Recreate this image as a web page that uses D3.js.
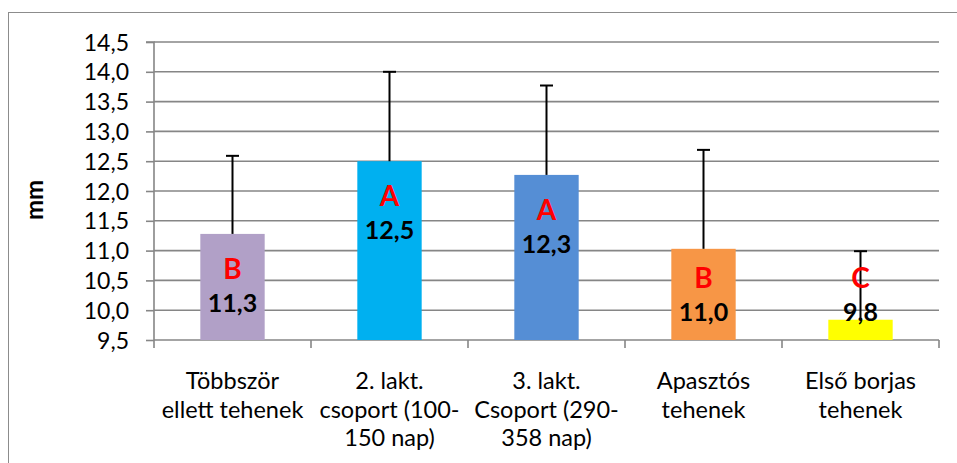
<!DOCTYPE html>
<html><head><meta charset="utf-8">
<script src="https://cdn.jsdelivr.net/npm/d3@7"></script>
<style>body{margin:0;background:#fff}svg{display:block}</style>
</head><body>
<svg id="c" width="957" height="463"></svg>
<script>
const categories = [["Többször","ellett tehenek"],["2. lakt.","csoport (100-","150 nap)"],["3. lakt.","Csoport (290-","358 nap)"],["Apasztós","tehenek"],["Első borjas","tehenek"]];
const values = [11.28, 12.5, 12.27, 11.03, 9.84];
const valueLabels = ["11,3","12,5","12,3","11,0","9,8"];
const errorTops = [12.59, 14.0, 13.77, 12.69, 10.99];
const letters = ["B","A","A","B","C"];
const colors = ["#B1A0C7","#00B0F0","#558ED5","#F79646","#FFFF00"];
const yTicks = [9.5,10,10.5,11,11.5,12,12.5,13,13.5,14,14.5];

const svg = d3.select("#c");
const font = "Lato, 'Open Sans', sans-serif";
const L=154, R=939, T=42, B=340;
svg.append("rect").attr("x",8.5).attr("y",12.5).attr("width",1000).attr("height",1000)
  .attr("fill","none").attr("stroke","#8c8c8c").attr("stroke-width",1);

const x = d3.scaleBand().domain(d3.range(categories.length)).range([L,R]).paddingInner(0.59).paddingOuter(0.295);
const xc = d3.scaleBand().domain(d3.range(categories.length)).range([L,R]);
const y = d3.scaleLinear().domain([9.5,14.5]).range([B,T]);

// gridlines
svg.append("g").selectAll("line").data(yTicks.slice(1)).join("line")
  .attr("x1",L).attr("x2",R).attr("y1",d=>y(d)).attr("y2",d=>y(d))
  .attr("stroke","#868686").attr("stroke-width",1.6);

// y axis
const ya = svg.append("g").attr("transform",`translate(${L},0)`)
  .call(d3.axisLeft(y).tickValues(yTicks).tickSize(8).tickFormat(d=>d3.format(".1f")(d).replace(".",",")));
ya.select(".domain").attr("stroke","#868686").attr("stroke-width",1.6).attr("d",`M-8,${T}H0V${B}`);
ya.selectAll(".tick line").attr("stroke","#868686").attr("stroke-width",1.6);
ya.selectAll(".tick text").attr("font-family",font).attr("font-size",23).attr("fill","#000").attr("x",-25).attr("dy","0.35em");

// x axis
const xa = svg.append("g").attr("transform",`translate(0,${B})`)
  .call(d3.axisBottom(xc).tickValues([]).tickSize(0));
xa.select(".domain").attr("stroke","#868686").attr("stroke-width",1.6).attr("d",`M${L},0H${R}`);
svg.append("g").selectAll("line").data(d3.range(categories.length+1)).join("line")
  .attr("x1",i=>L+i*xc.step()).attr("x2",i=>L+i*xc.step()).attr("y1",B).attr("y2",B+8)
  .attr("stroke","#868686").attr("stroke-width",1.6);

// category labels
const cl = svg.append("g").selectAll("text").data(categories).join("text")
  .attr("x",(d,i)=>xc(i)+xc.bandwidth()/2).attr("y",389)
  .attr("text-anchor","middle").attr("font-family",font).attr("font-size",23.5).attr("fill","#000");
cl.each(function(d){
  d3.select(this).selectAll("tspan").data(d).join("tspan")
    .attr("x",d3.select(this).attr("x")).attr("dy",(t,j)=>j?28.5:0).text(t=>t);
});

// bars
svg.append("g").selectAll("rect").data(values).join("rect")
  .attr("x",(d,i)=>x(i)).attr("width",x.bandwidth()).attr("y",d=>y(d)).attr("height",d=>B-y(d))
  .attr("fill",(d,i)=>colors[i]);

// error bars
const eb = svg.append("g").attr("stroke","#000").attr("stroke-width",2);
values.forEach((v,i)=>{
  const cx = x(i)+x.bandwidth()/2;
  eb.append("line").attr("x1",cx).attr("x2",cx).attr("y1",y(v)).attr("y2",y(errorTops[i]));
  eb.append("line").attr("x1",cx-6.5).attr("x2",cx+6.5).attr("y1",y(errorTops[i])).attr("y2",y(errorTops[i]));
});

// labels
values.forEach((v,i)=>{
  const cx = x(i)+x.bandwidth()/2;
  const vy = Math.min(y(v)+69, 312);
  svg.append("text").attr("x",cx).attr("y",vy).attr("dy","0.35em").attr("text-anchor","middle")
    .attr("font-family",font).attr("font-weight","bold").attr("font-size",25).attr("fill","#000").text(valueLabels[i]);
  svg.append("text").attr("x",cx).attr("y",vy-34).attr("dy","0.35em").attr("text-anchor","middle")
    .attr("font-family",font).attr("font-weight","bold").attr("font-size",28).attr("fill","#FF0000").text(letters[i]);
});

// y title
svg.append("text").attr("transform","translate(43,200) rotate(-90)").attr("text-anchor","middle")
  .attr("font-family",font).attr("font-weight","bold").attr("font-size",24).attr("fill","#000").text("mm");
</script>
</body></html>
